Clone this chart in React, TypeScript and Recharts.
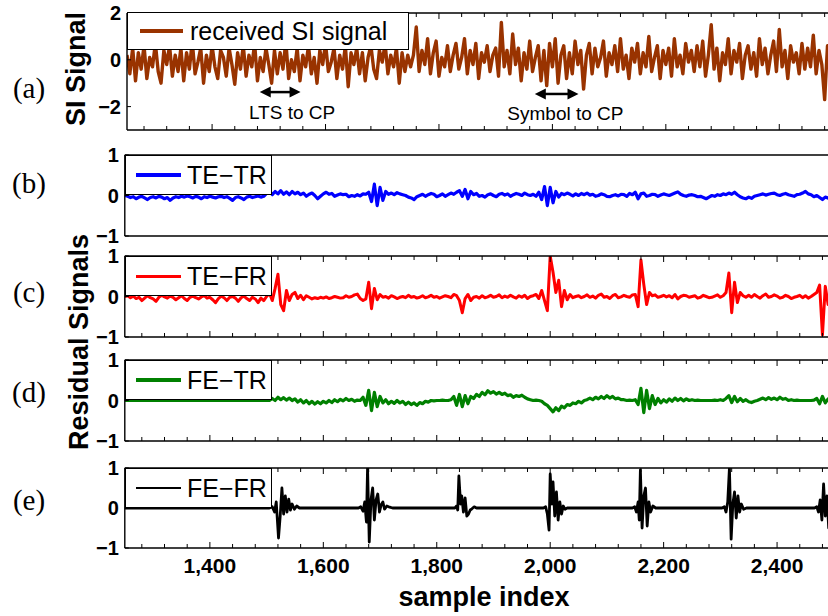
import { LineChart, Line, XAxis, YAxis, ReferenceLine, ReferenceDot } from 'recharts';

// sample grid of the uniformly read series
const X_START = 1250;
const X_END = 2500;
const X_STEP = 5;

const X_TICKS = [
  1280, 1320, 1360, 1400, 1440, 1480, 1520, 1560, 1600, 1640, 1680, 1720, 1760, 1800, 1840, 1880,
  1920, 1960, 2000, 2040, 2080, 2120, 2160, 2200, 2240, 2280, 2320, 2360, 2400, 2440, 2480,
];
const X_LABELED = [1400, 1600, 1800, 2000, 2200, 2400];

// (a) received SI signal, one value every 5 samples from 1250
const SI_SIGNAL = [
  0.2, -0.6, 0.5, -0.9, 0.3, -0.4, 0.6, -0.8, 0.1, -0.3, 0.7, -0.5, -1.0, 0.4, -0.2, 0.6, -0.7, 0.2, -0.5, 0.5,
  -0.9, 0.3, -0.4, 0.8, -0.6, -0.1, 0.5, -1.0, 0.2, -0.5, 0.6, -0.3, -0.8, 0.4, 0.1, -0.7, 0.5, -0.2, -1.05, 0.3,
  -0.4, 0.6, -0.7, 0.2, -0.3, 0.7, -0.9, 0.1, -0.5, 0.5, -0.2, -1.0, 0.4, -0.6, 0.3, -0.4, 0.8, -0.8, 0.0, -0.5,
  0.5, -0.9, 0.2, -0.3, 0.6, -0.6, 0.1, -1.0, 0.4, -0.2, 0.7, -0.5, -0.1, 0.5, -0.8, 0.2, -0.4, 0.6, -1.15, 0.3,
  -0.2, 0.5, -0.6, 0.3, -0.9, 0.1, 0.6, -0.4, -0.8, 0.4, -0.1, 0.7, -0.6, 0.2, -0.3, 0.5, -1.0, 0.3, -0.5, 0.2,
  -0.3, 0.2, 1.4, -0.5, 0.4, -0.2, 0.9, -0.6, 0.3, 0.8, -0.7, 0.1, -0.3, 0.6, -0.5, 0.2, 0.7, -0.4, 0.1, 0.9,
  -0.6, 0.4, -0.2, 0.7, -0.8, 0.3, -0.1, 0.6, -0.5, 0.2, 0.5, -0.7, 1.6, -0.3, 0.4, -0.6, 1.1, -0.2, 0.5, -0.9,
  0.3, -0.4, 0.8, -0.5, 0.1, 0.6, -0.9, 0.4, -1.1, 0.7, -0.3, 0.9, -1.0, 0.2, 0.6, -0.8, 0.3, -0.6, 0.8, -0.2,
  0.4, -1.25, 0.2, 0.7, -0.6, 0.5, -0.3, 0.1, 0.8, -0.7, 0.3, -0.2, 0.6, -0.5, 0.9, -0.4, 0.2, -0.8, 0.5, -0.1,
  0.7, -0.6, 0.3, -0.3, 1.0, -0.5, 0.1, 0.6, -0.8, 0.4, -0.2, 0.5, -0.7, 0.9, -0.3, 0.2, -0.6, 0.7, -0.1, 0.4,
  -0.5, 0.6, -0.3, 0.8, -0.7, 0.2, 1.5, -0.4, 0.5, -0.9, 0.3, -0.2, 0.9, -0.6, 0.4, -0.1, 0.7, -0.8, 0.2, 0.6,
  -0.4, 0.3, -0.7, 0.9, -0.2, 0.5, -0.6, 0.2, 0.8, -0.5, 1.3, -0.3, 0.4, -0.8, 0.6, -0.1, 0.3, -0.6, 0.7, -0.4,
  0.5, -0.3, 1.05, -0.6, 0.4, -0.2, -1.7, 0.6, -0.4, 0.8, -0.3,
];

// (b) TE-TR residual
const TE_TR = [
  0, -0.02, -0.05, -0.03, -0.08, -0.04, -0.02, -0.06, -0.1, -0.05, -0.03, -0.06, -0.02, -0.04, -0.08, -0.05, -0.12, -0.06, -0.03, -0.05,
  -0.02, -0.04, -0.01, -0.03, -0.06, -0.02, -0.04, -0.08, -0.03, -0.05, -0.02, -0.04, -0.06, -0.03, -0.02, -0.05, -0.03, -0.07, -0.12, -0.05,
  -0.03, -0.06, -0.1, -0.04, -0.02, -0.05, -0.03, -0.01, -0.04, -0.02, 0.05, 0.12, 0.02, 0.1, 0.04, 0.12, 0.03, 0.09, 0.02, 0.1,
  0.04, 0.08, 0.02, 0.06, -0.02, 0.03, 0.06, 0.0, -0.08, -0.02, 0.04, 0.08, 0.03, 0.05, -0.02, 0.01, 0.04, 0.02, 0.03, -0.03,
  0.0, -0.02, 0.02, -0.01, 0.04, 0.03, 0.08, -0.15, 0.28, -0.25, 0.2, -0.12, 0.1, 0.03, 0.06, 0.02, 0.07, 0.04, 0.02, 0.0,
  -0.04, -0.06, -0.1, -0.03, 0.0, 0.03, -0.02, 0.02, 0.05, 0.03, -0.03, 0.0, 0.04, -0.02, 0.02, 0.06, 0.03, 0.08, 0.12, -0.02,
  0.15, -0.08, 0.1, 0.02, 0.05, -0.02, 0.0, -0.04, 0.02, 0.04, 0.0, -0.03, 0.03, 0.05, 0.01, 0.04, -0.02, 0.02, 0.05, 0.03,
  0.0, 0.06, 0.02, 0.0, 0.03, -0.02, 0.08, -0.1, 0.22, -0.25, 0.2, -0.18, 0.1, -0.04, 0.05, 0.02, 0.06, 0.03, -0.01, 0.04,
  0.0, 0.05, 0.02, 0.06, 0.01, 0.03, -0.02, 0.0, 0.04, 0.02, -0.02, -0.03, 0.0, 0.02, -0.01, 0.03, 0.02, -0.02, 0.05, 0.02,
  0.08, -0.08, 0.04, 0.06, -0.02, 0.0, 0.03, 0.02, -0.02, 0.01, 0.04, 0.02, 0.0, 0.03, 0.06, 0.09, 0.03, 0.0, -0.02, 0.01,
  0.02, 0.0, -0.03, -0.02, -0.05, -0.08, -0.04, 0.0, -0.02, 0.02, 0.0, 0.04, 0.02, 0.06, 0.03, 0.08, 0.02, -0.03, -0.06, -0.08,
  -0.04, -0.07, -0.02, 0.0, 0.02, 0.04, 0.01, 0.03, 0.05, 0.06, 0.02, 0.0, 0.03, 0.05, 0.02, 0.0, -0.02, 0.02, 0.03, 0.06,
  0.1, 0.04, 0.02, -0.03, 0.0, -0.05, -0.1, -0.04, -0.06, -0.12, -0.15,
];

// (c) TE-FR residual
const TE_FR = [
  0.0, 0.02, -0.03, 0.01, -0.05, -0.02, -0.1, -0.04, 0.02, -0.03, -0.06, -0.12, -0.02, 0.03, -0.01, -0.04, 0.01, -0.02, -0.08, -0.03,
  0.02, -0.05, -0.1, -0.02, 0.01, -0.03, -0.06, -0.01, 0.02, -0.04, -0.02, -0.08, -0.15, -0.05, 0.01, -0.03, -0.1, -0.02, 0.0, -0.04,
  -0.12, -0.03, 0.01, -0.05, -0.1, -0.02, -0.06, -0.15, -0.04, -0.1, 0.0, 0.08, -0.1, 0.2, 0.55, -0.2, -0.35, 0.15, -0.1, 0.05,
  0.1, -0.05, 0.03, -0.08, 0.02, -0.02, -0.06, -0.03, -0.05, -0.02, -0.04, -0.01, -0.05, -0.03, 0.0, -0.02, -0.04, -0.03, 0.02, -0.02,
  0.0, 0.04, 0.06, -0.05, -0.1, -0.06, 0.35, -0.3, 0.2, -0.08, 0.05, -0.02, 0.0, -0.04, 0.02, -0.01, -0.05, -0.02, 0.0, -0.03,
  0.03, -0.02, 0.0, -0.04, -0.02, 0.02, -0.03, -0.01, 0.03, -0.02, 0.0, -0.04, -0.01, 0.02, 0.0, -0.03, 0.05, 0.02, -0.1, -0.4,
  -0.05, 0.05, -0.1, -0.02, 0.0, -0.04, 0.02, -0.03, -0.01, 0.03, -0.02, 0.0, 0.04, -0.03, 0.01, -0.02, 0.03, -0.01, -0.04, 0.02,
  -0.02, 0.03, -0.05, 0.0, 0.02, 0.05, -0.05, 0.15, -0.1, -0.35, 1.0, 0.6, 0.1, 0.4, -0.25, 0.15, -0.08, 0.05, -0.03, 0.0,
  0.02, -0.03, 0.0, 0.04, -0.02, 0.01, -0.04, 0.03, 0.06, -0.02, 0.0, -0.05, 0.02, 0.05, -0.03, -0.01, 0.03, 0.0, -0.02, 0.04,
  0.05, -0.25, 0.9, 0.3, -0.2, 0.1, 0.02, 0.04, -0.02, 0.0, 0.03, -0.01, 0.02, -0.03, 0.05, -0.06, 0.0, 0.03, 0.02, -0.02,
  0.0, 0.02, -0.04, -0.02, 0.03, 0.0, -0.03, -0.02, 0.01, 0.04, -0.02, 0.02, 0.1, 0.58, -0.4, 0.35, -0.15, 0.1, 0.02, -0.02,
  0.03, -0.02, 0.05, 0.0, -0.04, 0.02, 0.06, -0.02, 0.0, 0.04, 0.01, -0.04, -0.02, 0.03, 0.0, -0.05, -0.02, 0.0, 0.03, -0.03,
  0.02, -0.04, 0.0, 0.05, 0.1, 0.28, -0.95, 0.25, -0.2, 0.3, 0.1,
];

// (d) FE-TR residual
const FE_TR = [
  0, 0, 0, 0, 0, 0, 0, 0, 0, 0, 0, 0, 0, 0, 0, 0, 0, 0, 0, 0,
  0, 0, 0, 0, 0, 0, 0, 0, 0, 0, 0, 0, 0, 0, 0, 0, 0, 0, 0, 0,
  0, 0, 0, 0, 0, 0, 0, 0, 0, 0, 0, 0, 0.05, 0.0, 0.08, 0.02, 0.07, 0.01, 0.06, 0.0,
  0.04, -0.04, 0.02, -0.06, 0.0, -0.08, -0.02, -0.09, -0.03, -0.08, -0.02, -0.06, 0.0, -0.05, 0.02, -0.03, 0.03, -0.01, 0.05, 0.0,
  0.03, -0.02, 0.01, 0.0, 0.08, -0.12, 0.25, -0.25, 0.2, -0.15, 0.1, -0.06, 0.02, -0.08, -0.02, -0.07, 0.0, -0.06, -0.02, -0.1,
  -0.04, -0.1, -0.06, -0.12, -0.05, -0.08, -0.02, -0.04, 0.0, -0.01, 0.0, 0.0, 0.01, 0.0, 0.0, 0.02, 0.1, -0.12, 0.15, -0.15,
  0.12, -0.08, 0.1, 0.05, 0.15, 0.1, 0.2, 0.14, 0.24, 0.18, 0.22, 0.16, 0.2, 0.15, 0.18, 0.12, 0.14, 0.08, 0.12, 0.1,
  0.13, 0.08, 0.04, 0.02, 0.0, 0.01, 0.0, -0.02, -0.08, -0.12, -0.2, -0.28, -0.18, -0.25, -0.14, -0.18, -0.1, -0.12, -0.06, -0.08,
  -0.02, -0.06, 0.0, 0.02, 0.06, 0.02, 0.08, 0.04, 0.1, 0.05, 0.12, 0.06, 0.1, 0.04, 0.06, 0.02, 0.02, 0.0, 0.01, 0.0,
  0.02, -0.1, 0.3, -0.3, 0.25, -0.2, 0.12, -0.1, 0.05, -0.06, 0.02, -0.04, 0.04, -0.02, 0.06, 0.0, 0.05, -0.01, 0.04, 0.0,
  0.02, 0.0, 0.01, 0.0, 0.0, 0.0, 0.0, 0.0, 0.01, 0.0, 0.02, 0.0, 0.05, 0.12, -0.05, 0.1, -0.03, 0.05, -0.02, 0.02,
  -0.03, -0.05, -0.02, 0.0, 0.03, 0.06, 0.02, 0.07, 0.03, 0.06, 0.02, 0.08, 0.03, 0.05, 0.0, 0.02, 0.0, 0.01, 0.0, 0.0,
  0.0, 0.0, 0.0, 0.01, 0.05, -0.08, 0.1, -0.06, 0.04, -0.02, 0.0,
];

// (e) FE-FR residual, [sample, value] read around each burst
const FE_FR: [number, number][] = [
  [1250, 0], [1505, 0], [1510, 0.03], [1514, -0.1], [1517, 0.15], [1521, -0.75], [1524, -0.2], [1527, 0.5],
  [1530, -0.15], [1533, 0.3], [1536, -0.1], [1539, 0.22], [1542, -0.05], [1545, 0.1], [1549, -0.03], [1553, 0.05],
  [1558, 0], [1565, 0],
  [1662, 0], [1666, 0.03], [1670, -0.08], [1673, 0.15], [1676, -0.35], [1678, 1.0], [1681, -0.85], [1684, 0.2],
  [1687, 0.5], [1690, -0.3], [1693, 0.2], [1696, 0.35], [1699, -0.1], [1702, 0.08], [1705, 0.15], [1708, -0.03],
  [1712, 0.05], [1717, 0.02], [1722, 0], [1728, 0],
  [1832, 0], [1835, 0.05], [1837, -0.05], [1839, 0.8], [1842, 0.1], [1844, 0.3], [1847, -0.1], [1850, 0.25],
  [1853, -0.2], [1856, -0.15], [1859, -0.05], [1862, -0.02], [1866, 0.03], [1870, 0],
  [1988, 0], [1992, 0.03], [1995, -0.15], [1998, -0.55], [2000, 0.85], [2003, 0.1], [2005, 0.65], [2008, -0.2],
  [2011, 0.4], [2014, -0.3], [2017, 0.15], [2020, -0.15], [2023, 0.05], [2026, -0.03], [2030, 0],
  [2145, 0], [2149, 0.03], [2152, -0.1], [2155, 0.15], [2157, -0.3], [2159, 0.95], [2162, -0.5], [2165, 0.3],
  [2168, 0.5], [2171, -0.45], [2174, 0.15], [2177, -0.1], [2181, 0.05], [2186, 0],
  [2303, 0], [2307, 0.03], [2310, -0.1], [2313, 0.15], [2316, 1.0], [2319, -0.78], [2322, 0.1], [2325, 0.4],
  [2328, -0.25], [2331, 0.3], [2334, -0.1], [2337, 0.1], [2341, -0.03], [2346, 0],
  [2466, 0], [2470, 0.03], [2473, -0.1], [2476, 0.2], [2479, -0.3], [2482, 0.6], [2485, -0.2], [2488, 0.3],
  [2491, -0.5], [2494, 0.2], [2497, -0.1], [2500, 0],
];

const ANNOTATIONS = [
  { text: 'LTS to CP', from: 1484, to: 1556, arrowY: -1.38, textX: 1541, textY: -2.25 },
  { text: 'Symbol to CP', from: 1969, to: 2046, arrowY: -1.46, textX: 2023, textY: -2.28 },
];

const uniformRows = (values: number[]) => values.map((y, i) => ({ x: X_START + i * X_STEP, y }));
const pairRows = (pairs: [number, number][]) => pairs.map(([x, y]) => ({ x, y }));

const SANS = '"Liberation Sans", Arial, Helvetica, sans-serif';
const SERIF = '"Liberation Serif", "Times New Roman", serif';
const PLOT_W = 709;
const MT = 12;

type PanelCfg = {
  id: string;
  rows: { x: number; y: number }[];
  color: string;
  lw: number;
  top: number;
  bottom: number;
  domain: [number, number];
  yTicks: number[];
  axisW: number;
  xTicks: boolean;
  xLabels: boolean;
  legend: string;
  legendBox: { left: number; top: number; width: number; height: number; lineLeft: number; lineW: number; gap: number };
  tag: string;
  tagY: number;
};

const PANELS: PanelCfg[] = [
  {
    id: 'a', rows: uniformRows(SI_SIGNAL), color: '#993300', lw: 3.4, top: 13, bottom: 130, domain: [-3, 2],
    yTicks: [-2, 0, 2], axisW: 127, xTicks: true, xLabels: false, legend: 'received SI signal',
    legendBox: { left: 127, top: 12, width: 282, height: 38, lineLeft: 12, lineW: 43, gap: 7 }, tag: '(a)', tagY: 88,
  },
  {
    id: 'b', rows: uniformRows(TE_TR), color: '#0000ff', lw: 3.2, top: 155, bottom: 236, domain: [-1, 1],
    yTicks: [-1, 0, 1], axisW: 124.8, xTicks: false, xLabels: false, legend: 'TE\u2212TR',
    legendBox: { left: 125, top: 155, width: 147, height: 40, lineLeft: 10, lineW: 45, gap: 6 }, tag: '(b)', tagY: 183,
  },
  {
    id: 'c', rows: uniformRows(TE_FR), color: '#ff0000', lw: 3, top: 256, bottom: 337, domain: [-1, 1],
    yTicks: [-1, 0, 1], axisW: 124.8, xTicks: true, xLabels: false, legend: 'TE\u2212FR',
    legendBox: { left: 125, top: 256, width: 147, height: 40, lineLeft: 10, lineW: 45, gap: 6 }, tag: '(c)', tagY: 292,
  },
  {
    id: 'd', rows: uniformRows(FE_TR), color: '#008000', lw: 3.2, top: 360, bottom: 441, domain: [-1, 1],
    yTicks: [-1, 0, 1], axisW: 124.8, xTicks: true, xLabels: false, legend: 'FE\u2212TR',
    legendBox: { left: 125, top: 360, width: 147, height: 40, lineLeft: 10, lineW: 45, gap: 6 }, tag: '(d)', tagY: 392,
  },
  {
    id: 'e', rows: pairRows(FE_FR), color: '#000000', lw: 2.8, top: 468, bottom: 548, domain: [-1, 1],
    yTicks: [-1, 0, 1], axisW: 124.8, xTicks: true, xLabels: true, legend: 'FE\u2212FR',
    legendBox: { left: 125, top: 468, width: 147, height: 40, lineLeft: 10, lineW: 45, gap: 6 }, tag: '(e)', tagY: 500,
  },
];

const fmtY = (v: number) => (v < 0 ? '\u2212' + Math.abs(v) : String(v));

function XTick(props: any) {
  const { x, y, payload, side, show, labels } = props;
  if (!show) return <g />;
  const v = payload.value as number;
  const major = X_LABELED.includes(v);
  const len = major ? 6 : 4;
  const dir = side === 'top' ? 1 : -1;
  return (
    <g>
      <line x1={x} y1={y} x2={x} y2={y + dir * len} stroke="#000" strokeWidth={1} />
      {labels && major && (
        <text x={x} y={y + 25} textAnchor="middle" fontFamily={SANS} fontWeight="bold" fontSize={21} fill="#000">
          {v.toLocaleString('en-US')}
        </text>
      )}
    </g>
  );
}

function YTick(props: any) {
  const { x, y, payload } = props;
  return (
    <g>
      <line x1={x} y1={y} x2={x + 4} y2={y} stroke="#000" strokeWidth={1} />
      <text x={x - 6} y={y} dy="0.36em" textAnchor="end" fontFamily={SANS} fontWeight="bold" fontSize={20} fill="#000">
        {fmtY(payload.value)}
      </text>
    </g>
  );
}

function DoubleArrow(props: any) {
  const { x1, y1, x2, y2 } = props;
  const hl = 11;
  const hw = 5.5;
  return (
    <g>
      <line x1={x1 + hl - 1} y1={y1} x2={x2 - hl + 1} y2={y2} stroke="#000" strokeWidth={2.5} />
      <polygon points={`${x1},${y1} ${x1 + hl},${y1 - hw} ${x1 + hl},${y1 + hw}`} fill="#000" />
      <polygon points={`${x2},${y2} ${x2 - hl},${y2 - hw} ${x2 - hl},${y2 + hw}`} fill="#000" />
    </g>
  );
}

function Panel({ p }: { p: PanelCfg }) {
  const mb = p.xLabels ? 40 : 12;
  const h = p.bottom - p.top + MT + mb;
  return (
    <div style={{ position: 'absolute', left: 0, top: p.top - MT }}>
      <LineChart width={p.axisW + PLOT_W} height={h} data={p.rows} margin={{ top: MT - 1, right: 0, bottom: mb - 1, left: 0 }}>
        <XAxis
          dataKey="x"
          type="number"
          domain={[X_START, X_END]}
          ticks={X_TICKS}
          interval={0}
          allowDataOverflow
          height={1}
          tickSize={0}
          tickMargin={0}
          tickLine={false}
          tick={(tp: any) => <XTick {...tp} side="bottom" show={p.xTicks} labels={p.xLabels} />}
          axisLine={{ stroke: '#000', strokeWidth: 1.4 }}
        />
        <XAxis
          xAxisId="top"
          orientation="top"
          dataKey="x"
          type="number"
          domain={[X_START, X_END]}
          ticks={X_TICKS}
          interval={0}
          allowDataOverflow
          height={1}
          tickSize={0}
          tickMargin={0}
          tickLine={false}
          tick={(tp: any) => <XTick {...tp} side="top" show={p.xTicks} labels={false} />}
          axisLine={{ stroke: '#000', strokeWidth: 1.4 }}
        />
        <YAxis
          type="number"
          domain={p.domain}
          ticks={p.yTicks}
          interval={0}
          allowDataOverflow
          width={p.axisW}
          tickSize={0}
          tickMargin={0}
          tickLine={false}
          tick={(tp: any) => <YTick {...tp} />}
          axisLine={{ stroke: '#000', strokeWidth: 1.4 }}
        />
        <Line
          dataKey="y"
          type="linear"
          stroke={p.color}
          strokeWidth={p.lw}
          strokeLinejoin="round"
          dot={false}
          activeDot={false}
          isAnimationActive={false}
        />
        {p.id === 'a' &&
          ANNOTATIONS.map((a) => (
            <ReferenceLine
              key={a.text + '-arrow'}
              segment={[{ x: a.from, y: a.arrowY }, { x: a.to, y: a.arrowY }]}
              shape={(sp: any) => <DoubleArrow {...sp} />}
            />
          ))}
        {p.id === 'a' &&
          ANNOTATIONS.map((a) => (
            <ReferenceDot
              key={a.text + '-text'}
              x={a.textX}
              y={a.textY}
              shape={(sp: any) => (
                <text x={sp.cx} y={sp.cy} dy="0.36em" textAnchor="middle" fontFamily={SANS} fontSize={19} fill="#000">
                  {a.text}
                </text>
              )}
            />
          ))}
      </LineChart>
    </div>
  );
}

function LegendBox({ p }: { p: PanelCfg }) {
  const b = p.legendBox;
  return (
    <div
      style={{
        position: 'absolute',
        left: b.left,
        top: b.top,
        width: b.width,
        height: b.height,
        boxSizing: 'border-box',
        border: '1.4px solid #000',
        background: '#fff',
        display: 'flex',
        alignItems: 'center',
        whiteSpace: 'nowrap',
      }}
    >
      <div style={{ marginLeft: b.lineLeft, width: b.lineW, height: p.lw, background: p.color }} />
      <span style={{ marginLeft: b.gap, fontFamily: SANS, fontSize: 25, color: '#000', lineHeight: 1 }}>{p.legend}</span>
    </div>
  );
}

function VerticalTitle({ text, x, y }: { text: string; x: number; y: number }) {
  return (
    <div
      style={{
        position: 'absolute',
        left: x,
        top: y,
        transform: 'translate(-50%, -50%) rotate(-90deg)',
        fontFamily: SANS,
        fontWeight: 'bold',
        fontSize: 27,
        lineHeight: 1,
        whiteSpace: 'nowrap',
        color: '#000',
      }}
    >
      {text}
    </div>
  );
}

export default function App() {
  return (
    <div style={{ position: 'absolute', left: 0, top: 0, width: 828, height: 616, overflow: 'hidden', background: '#fff' }}>
      {PANELS.map((p) => (
        <Panel key={p.id} p={p} />
      ))}
      {PANELS.map((p) => (
        <LegendBox key={p.id + '-legend'} p={p} />
      ))}
      {PANELS.map((p) => (
        <div
          key={p.id + '-tag'}
          style={{
            position: 'absolute',
            left: 29,
            top: p.tagY,
            transform: 'translate(-50%, -50%)',
            fontFamily: SERIF,
            fontSize: 29,
            lineHeight: 1,
            color: '#000',
          }}
        >
          {p.tag}
        </div>
      ))}
      <VerticalTitle text="SI Signal" x={76} y={69} />
      <VerticalTitle text="Residual Signals" x={79} y={342} />
      <div
        style={{
          position: 'absolute',
          left: 484,
          top: 597,
          transform: 'translate(-50%, -50%)',
          fontFamily: SANS,
          fontWeight: 'bold',
          fontSize: 27,
          lineHeight: 1,
          whiteSpace: 'nowrap',
          color: '#000',
        }}
      >
        sample index
      </div>
    </div>
  );
}
